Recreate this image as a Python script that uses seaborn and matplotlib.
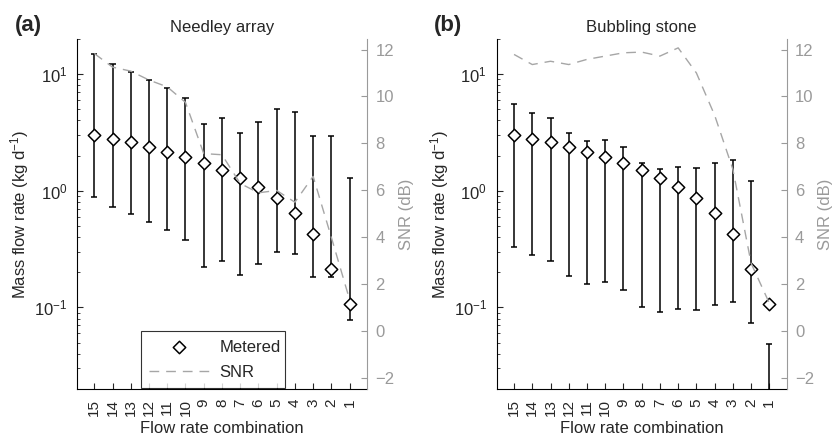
import numpy as np
import pandas as pd
import matplotlib
matplotlib.use("Agg")
import matplotlib.pyplot as plt
import seaborn as sns

# flow rate combinations, plotted left to right
combos = [15, 14, 13, 12, 11, 10, 9, 8, 7, 6, 5, 4, 3, 2, 1]

# metered mass flow rate (kg/d), same in both panels
metered = [3.0, 2.77, 2.6, 2.37, 2.16, 1.95, 1.74, 1.52, 1.29, 1.08, 0.865, 0.647, 0.43, 0.214, 0.107]

# (a) needley array: estimate range and SNR
a_upper = [14.8, 12.1, 10.4, 8.9, 7.6, 6.27, 3.7, 4.2, 3.14, 3.85, 5.0, 4.7, 2.95, 2.95, 1.28]
a_lower = [0.89, 0.73, 0.63, 0.54, 0.46, 0.38, 0.223, 0.25, 0.19, 0.235, 0.296, 0.286, 0.182, 0.182, 0.078]
a_snr = [11.83, 11.25, 11.08, 10.7, 10.41, 9.75, 7.57, 7.52, 6.3, 5.9, 6.0, 5.5, 6.6, 4.0, 1.35]

# (b) bubbling stone: estimate range and SNR
b_upper = [5.5, 4.6, 4.2, 3.14, 2.65, 2.72, 2.35, 1.72, 1.53, 1.61, 1.58, 1.74, 1.83, 1.21, 0.0485]
b_lower = [0.33, 0.28, 0.25, 0.187, 0.16, 0.164, 0.141, 0.1, 0.091, 0.096, 0.095, 0.104, 0.112, 0.073, 0.01]
b_snr = [11.79, 11.36, 11.5, 11.36, 11.58, 11.72, 11.86, 11.89, 11.72, 12.07, 11.0, 9.2, 6.9, 2.9, 1.2]

GRAY = "#9a9a9a"
LINE_GRAY = "#a6a6a6"


def set_config():
    sns.set_theme(style="white")
    plt.rcParams["font.family"] = ["Liberation Sans", "DejaVu Sans"]
    plt.rcParams["mathtext.default"] = "regular"
    plt.rcParams["axes.linewidth"] = 0.8


def draw_panel(fig, rect, upper, lower, snr, title, tag, show_legend=False):
    df = pd.DataFrame({
        "pos": np.arange(len(combos)),
        "metered": metered,
        "upper": upper,
        "lower": lower,
        "snr": snr,
    })

    ax = fig.add_axes(rect)
    ax2 = ax.twinx()

    # error bars with caps
    ax.vlines(df["pos"], df["lower"], df["upper"], color="black", lw=1.1, zorder=2)
    ax.hlines(df["upper"], df["pos"] - 0.17, df["pos"] + 0.17, color="black", lw=1.1, zorder=2)
    ax.hlines(df["lower"], df["pos"] - 0.17, df["pos"] + 0.17, color="black", lw=1.1, zorder=2)
    sns.scatterplot(data=df, x="pos", y="metered", ax=ax, marker="D", s=40,
                    facecolor="white", edgecolor="black", linewidth=1.1,
                    zorder=3, label="Metered", legend=False)

    sns.lineplot(data=df, x="pos", y="snr", ax=ax2, color=LINE_GRAY, lw=1.0,
                 dashes=False, label="SNR", legend=False)
    ax2.lines[-1].set_dashes((7, 5))

    ax.set_yscale("log")
    ax.set_ylim(0.02, 20)
    ax.set_xlim(-0.95, 14.95)
    ax2.set_ylim(-2.45, 12.45)
    ax2.set_yticks([-2, 0, 2, 4, 6, 8, 10, 12])

    ax.set_xticks(df["pos"])
    ax.set_xticklabels([str(c) for c in combos], rotation=90, fontsize=11)
    ax.tick_params(axis="x", direction="in", length=4, width=0.8, pad=7, bottom=True)
    ax.tick_params(axis="y", which="major", direction="in", length=4, width=0.8,
                   labelsize=12, pad=7, left=True)
    ax.tick_params(axis="y", which="minor", direction="in", length=2, width=0.6, left=True)
    ax2.tick_params(axis="y", direction="in", length=4, width=0.8, colors=GRAY,
                    labelsize=12, pad=6, right=True)

    for side in ["top", "right"]:
        ax.spines[side].set_visible(False)
    for side in ["top", "left", "bottom"]:
        ax2.spines[side].set_visible(False)
    ax.spines["left"].set_color("black")
    ax.spines["bottom"].set_color("black")
    ax2.spines["right"].set_color(GRAY)

    ax.set_xlabel("Flow rate combination", fontsize=12, labelpad=4)
    ax.set_ylabel("Mass flow rate (kg d$^{-1}$)", fontsize=12, labelpad=2)
    ax2.set_ylabel("SNR (dB)", fontsize=12, color=GRAY, labelpad=3)
    ax.set_title(title, fontsize=12, pad=5)
    ax.grid(False)
    ax2.grid(False)

    fig.text(rect[0] - 0.075, 0.943, tag, fontsize=16, fontweight="bold", va="center")

    if show_legend:
        h1, l1 = ax.get_legend_handles_labels()
        h2, l2 = ax2.get_legend_handles_labels()
        leg = ax2.legend(h1 + h2, l1 + l2, loc="lower left",
                         bbox_to_anchor=(0.221, 0.003, 0.496, 0.2), mode="expand",
                         fontsize=12, frameon=True, fancybox=False, handlelength=3.6,
                         handletextpad=0.6, borderpad=0.5, labelspacing=0.6,
                         borderaxespad=0)
        leg.get_frame().set_edgecolor("black")
        leg.get_frame().set_linewidth(0.8)
    return ax, ax2


def main():
    set_config()
    fig = plt.figure(figsize=(8.33, 4.41), dpi=100)
    draw_panel(fig, [0.0924, 0.118, 0.3481, 0.7937], a_upper, a_lower, a_snr,
               "Needley array", "(a)", show_legend=True)
    draw_panel(fig, [0.5963, 0.118, 0.3481, 0.7937], b_upper, b_lower, b_snr,
               "Bubbling stone", "(b)")
    fig.savefig("out.png", dpi=100)


if __name__ == "__main__":
    main()
